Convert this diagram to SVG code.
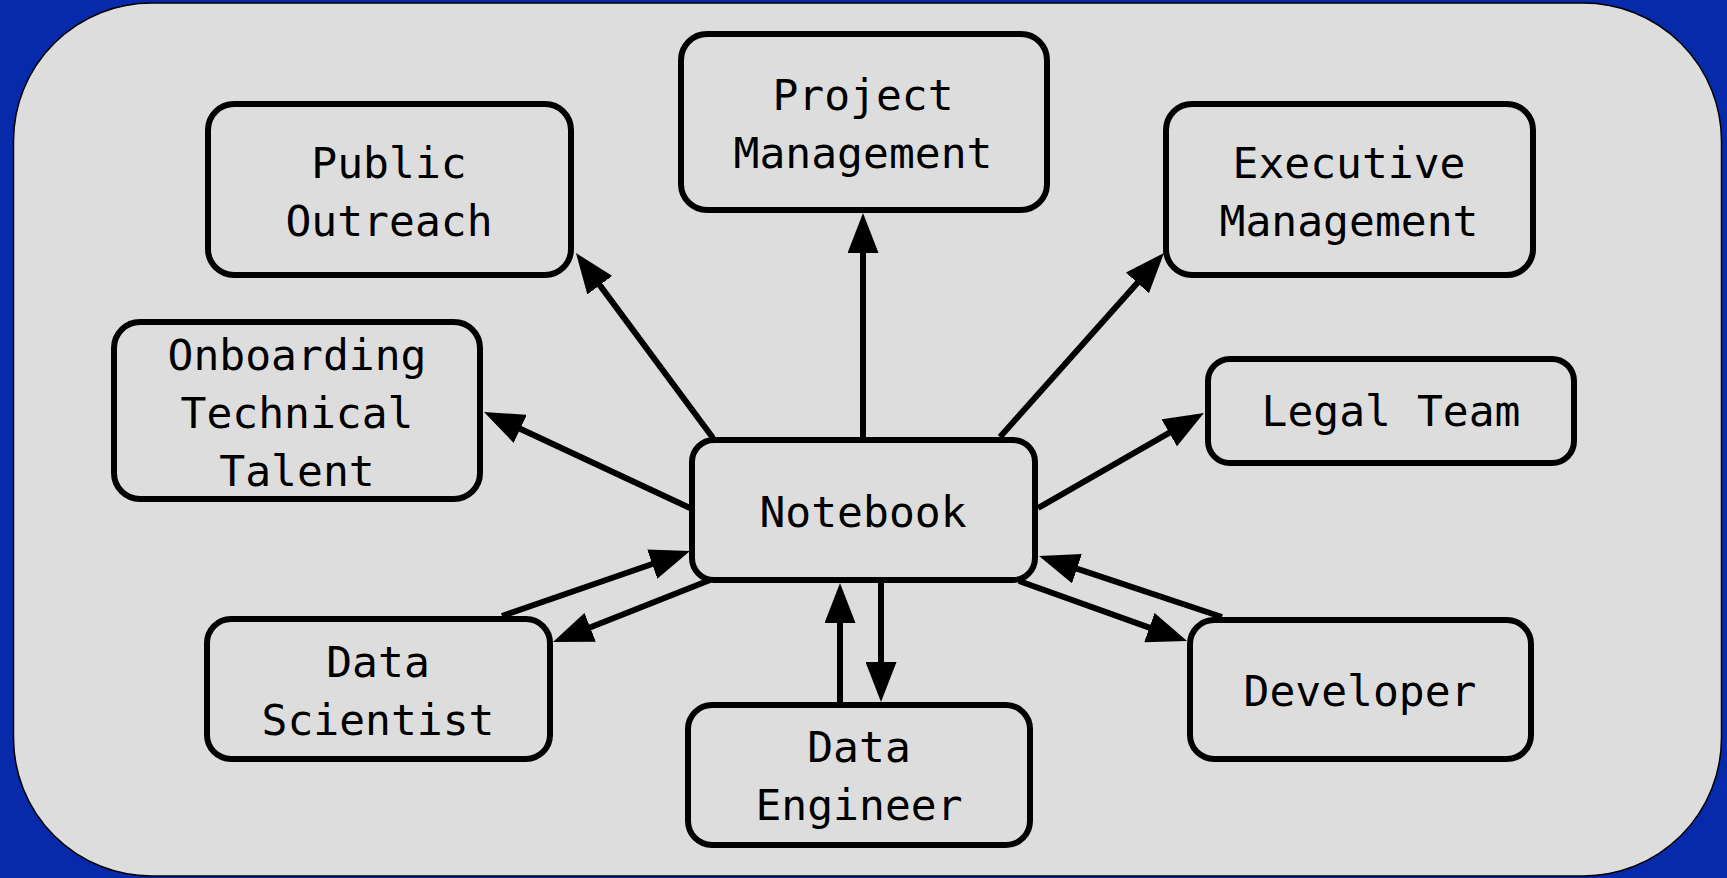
<svg xmlns="http://www.w3.org/2000/svg" width="1727" height="878" viewBox="0 0 1727 878">
  <style>
    .panel { fill: #dddddd; stroke: #000000; stroke-width: 1.5; }
    .node rect { fill: #dddddd; stroke: #000000; stroke-width: 6; }
    .node text { font-family: "DejaVu Sans Mono", "Liberation Mono", monospace; font-size: 43px; fill: #000000; text-anchor: middle; }
    .edge { stroke: #000000; stroke-width: 6; fill: none; marker-end: url(#arrow); }
  </style>
  <defs>
    <marker id="arrow" markerUnits="userSpaceOnUse" markerWidth="40" markerHeight="31" refX="20" refY="15.5" orient="auto">
      <path d="M0,0 L40,15.5 L0,31 z" fill="#000000"/>
    </marker>
  </defs>

  <!-- backdrop -->
  <rect x="0" y="0" width="1727" height="878" fill="#062aaa"/>
  <rect class="panel" x="13.5" y="3" width="1708" height="873" rx="138" ry="138"/>

  <!-- connectors -->
  <g id="connectors">
    <line class="edge" x1="713" y1="438" x2="587.9" y2="269.1"/>
    <line class="edge" x1="863" y1="437" x2="863" y2="233"/>
    <line class="edge" x1="1000" y1="437" x2="1150.7" y2="267.9"/>
    <line class="edge" x1="690" y1="508" x2="502.1" y2="420.4"/>
    <line class="edge" x1="1038" y1="508" x2="1186.6" y2="422.9"/>
    <line class="edge" x1="502" y1="616" x2="671.1" y2="557.5"/>
    <line class="edge" x1="710" y1="580" x2="571.6" y2="634.7"/>
    <line class="edge" x1="840" y1="702" x2="840" y2="603"/>
    <line class="edge" x1="881" y1="583" x2="881" y2="682"/>
    <line class="edge" x1="1222" y1="617" x2="1058" y2="562.3"/>
    <line class="edge" x1="1019" y1="581" x2="1168.2" y2="634.3"/>
  </g>

  <!-- nodes -->
  <g id="public-outreach" class="node">
    <rect x="208" y="104" width="363" height="171" rx="26"/>
    <text x="389" y="178">Public</text>
    <text x="389" y="236">Outreach</text>
  </g>
  <g id="project-management" class="node">
    <rect x="681" y="34" width="366" height="176" rx="26"/>
    <text x="863" y="110">Project</text>
    <text x="863" y="168">Management</text>
  </g>
  <g id="executive-management" class="node">
    <rect x="1166" y="104" width="367" height="171" rx="26"/>
    <text x="1349" y="178">Executive</text>
    <text x="1349" y="236">Management</text>
  </g>
  <g id="onboarding" class="node">
    <rect x="114" y="322" width="366" height="177" rx="26"/>
    <text x="297" y="370">Onboarding</text>
    <text x="297" y="428">Technical</text>
    <text x="297" y="486">Talent</text>
  </g>
  <g id="legal-team" class="node">
    <rect x="1208" y="359" width="366" height="104" rx="22"/>
    <text x="1391" y="426">Legal Team</text>
  </g>
  <g id="notebook" class="node">
    <rect x="692" y="440" width="343" height="140" rx="22"/>
    <text x="863" y="527">Notebook</text>
  </g>
  <g id="data-scientist" class="node">
    <rect x="207" y="619" width="343" height="140" rx="24"/>
    <text x="378" y="677">Data</text>
    <text x="378" y="735">Scientist</text>
  </g>
  <g id="data-engineer" class="node">
    <rect x="688" y="705" width="342" height="140" rx="24"/>
    <text x="859" y="762">Data</text>
    <text x="859" y="820">Engineer</text>
  </g>
  <g id="developer" class="node">
    <rect x="1190" y="620" width="341" height="139" rx="24"/>
    <text x="1360" y="706">Developer</text>
  </g>
</svg>
